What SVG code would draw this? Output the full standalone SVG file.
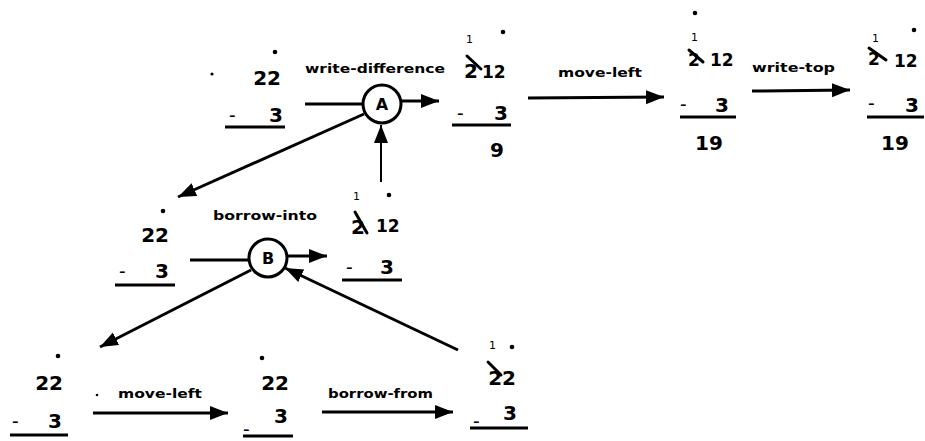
<svg xmlns="http://www.w3.org/2000/svg" width="925" height="441" viewBox="0 0 925 441">
<defs>
<style>
.d{font-family:"DejaVu Sans","Liberation Sans",sans-serif;font-weight:bold;font-size:20px;fill:#000}
.s{font-family:"DejaVu Sans","Liberation Sans",sans-serif;font-weight:bold;font-size:17px;fill:#000}
.t{font-family:"DejaVu Sans","Liberation Sans",sans-serif;font-size:11px;fill:#000}
.m{font-family:"Liberation Sans",Arial,sans-serif;font-size:20px;fill:#000}
.l{font-family:"DejaVu Sans","Liberation Sans",sans-serif;font-weight:bold;font-size:13px;fill:#000}
.u{stroke:#000;stroke-width:3;fill:none}
.x{stroke:#000;stroke-width:3;stroke-linecap:round;fill:none}
.c{stroke:#000;stroke-width:3;fill:none}
.c2{stroke:#000;stroke-width:2;fill:none}
.n{fill:#fff;stroke:#000;stroke-width:3}
.nl{font-family:"DejaVu Sans","Liberation Sans",sans-serif;font-weight:bold;font-size:16px;fill:#000;text-anchor:middle}
</style>
<marker id="ah" markerUnits="userSpaceOnUse" markerWidth="20" markerHeight="16" refX="18" refY="7" orient="auto">
<path d="M0,0 L18,7 L0,14 z" fill="#000"/>
</marker>
</defs>
<rect width="925" height="441" fill="#fff"/>

<g id="connectors">
<line class="c" x1="305" y1="104" x2="363" y2="104"/>
<line class="c" x1="401" y1="101" x2="439" y2="101" marker-end="url(#ah)"/>
<line class="c" x1="528" y1="98" x2="664" y2="97" marker-end="url(#ah)"/>
<line class="c" x1="752" y1="91" x2="850" y2="90" marker-end="url(#ah)"/>
<line class="c" x1="364" y1="114" x2="178" y2="197" marker-end="url(#ah)"/>
<line class="c2" x1="381" y1="182" x2="381" y2="125" marker-end="url(#ah)"/>
<line class="c" x1="190" y1="260" x2="249" y2="260"/>
<line class="c" x1="287" y1="256" x2="327" y2="256" marker-end="url(#ah)"/>
<line class="c" x1="251" y1="270" x2="100" y2="347" marker-end="url(#ah)"/>
<line class="c" x1="93" y1="413" x2="228" y2="413" marker-end="url(#ah)"/>
<line class="c" x1="322" y1="412" x2="453" y2="412" marker-end="url(#ah)"/>
<line class="c" x1="458" y1="350" x2="285" y2="268" marker-end="url(#ah)"/>
</g>

<g id="labels">
<text class="l" x="305" y="73" textLength="140" lengthAdjust="spacingAndGlyphs">write-difference</text>
<text class="l" x="558" y="77" textLength="84" lengthAdjust="spacingAndGlyphs">move-left</text>
<text class="l" x="752" y="72" textLength="83" lengthAdjust="spacingAndGlyphs">write-top</text>
<text class="l" x="213" y="220" textLength="104" lengthAdjust="spacingAndGlyphs">borrow-into</text>
<text class="l" x="118" y="398" textLength="84" lengthAdjust="spacingAndGlyphs">move-left</text>
<text class="l" x="328" y="398" textLength="105" lengthAdjust="spacingAndGlyphs">borrow-from</text>
</g>

<g id="nodeA">
<circle class="n" cx="382" cy="104" r="19"/>
<text class="nl" x="382" y="110">A</text>
</g>
<g id="nodeB">
<circle class="n" cx="268" cy="258" r="19"/>
<text class="nl" x="268" y="264">B</text>
</g>

<g id="state-t1">
<circle cx="275" cy="52" r="2.3"/>
<circle cx="212" cy="74" r="1.6"/>
<text class="d" x="281" y="85" text-anchor="end">22</text>
<text class="m" x="229" y="122">-</text>
<text class="d" x="283" y="122" text-anchor="end">3</text>
<line class="u" x1="225" y1="127" x2="285" y2="127"/>
</g>

<g id="state-t2">
<text class="t" x="466" y="43">1</text>
<circle cx="503" cy="32" r="2.3"/>
<text class="d" x="464" y="78">2</text>
<line class="x" x1="467" y1="56" x2="481" y2="69"/>
<text class="s" x="482" y="78">12</text>
<text class="m" x="457" y="120">-</text>
<text class="d" x="508" y="120" text-anchor="end">3</text>
<line class="u" x1="452" y1="125" x2="511" y2="125"/>
<text class="d" x="504" y="157" text-anchor="end">9</text>
</g>

<g id="state-t3">
<circle cx="695" cy="13" r="2.3"/>
<text class="t" x="691" y="41">1</text>
<text class="s" x="688" y="66">2</text>
<line class="x" x1="689" y1="50" x2="703" y2="62"/>
<text class="s" x="710" y="66">12</text>
<text class="m" x="680" y="111">-</text>
<text class="d" x="729" y="112" text-anchor="end">3</text>
<line class="u" x1="680" y1="117" x2="736" y2="117"/>
<text class="d" x="709" y="150" text-anchor="middle">19</text>
</g>

<g id="state-t4">
<text class="t" x="872" y="42">1</text>
<circle cx="914" cy="30" r="2.3"/>
<text class="s" x="868" y="65">2</text>
<line class="x" x1="869" y1="48" x2="886" y2="60"/>
<text class="s" x="894" y="67">12</text>
<text class="m" x="868" y="110">-</text>
<text class="d" x="919" y="112" text-anchor="end">3</text>
<line class="u" x1="867" y1="117" x2="924" y2="117"/>
<text class="d" x="895" y="150" text-anchor="middle">19</text>
</g>

<g id="state-m1">
<circle cx="163" cy="211" r="2.3"/>
<text class="d" x="169" y="242" text-anchor="end">22</text>
<text class="m" x="119" y="278">-</text>
<text class="d" x="169" y="278" text-anchor="end">3</text>
<line class="u" x1="115" y1="285" x2="175" y2="285"/>
</g>

<g id="state-m2">
<text class="t" x="353" y="200">1</text>
<circle cx="389" cy="195" r="2.3"/>
<text class="d" x="351" y="234">2</text>
<line class="x" x1="355" y1="212" x2="367" y2="233"/>
<text class="s" x="376" y="232">12</text>
<text class="m" x="346" y="274">-</text>
<text class="d" x="394" y="274" text-anchor="end">3</text>
<line class="u" x1="342" y1="280" x2="402" y2="280"/>
</g>

<g id="state-b1">
<circle cx="58" cy="356" r="2.3"/>
<circle cx="97" cy="395" r="1.3"/>
<text class="d" x="63" y="390" text-anchor="end">22</text>
<text class="m" x="12" y="428">-</text>
<text class="d" x="62" y="428" text-anchor="end">3</text>
<line class="u" x1="10" y1="435" x2="68" y2="435"/>
</g>

<g id="state-b2">
<circle cx="262" cy="358" r="2.3"/>
<text class="d" x="289" y="390" text-anchor="end">22</text>
<text class="m" x="243" y="436">-</text>
<text class="d" x="288" y="423" text-anchor="end">3</text>
<line class="u" x1="243" y1="436" x2="293" y2="436"/>
</g>

<g id="state-b3">
<text class="t" x="489" y="349">1</text>
<circle cx="512" cy="347" r="2.3"/>
<text class="d" x="516" y="385" text-anchor="end">22</text>
<line class="x" x1="488" y1="362" x2="501" y2="375"/>
<text class="m" x="473" y="428">-</text>
<text class="d" x="517" y="420" text-anchor="end">3</text>
<line class="u" x1="470" y1="428" x2="528" y2="428"/>
</g>
</svg>
